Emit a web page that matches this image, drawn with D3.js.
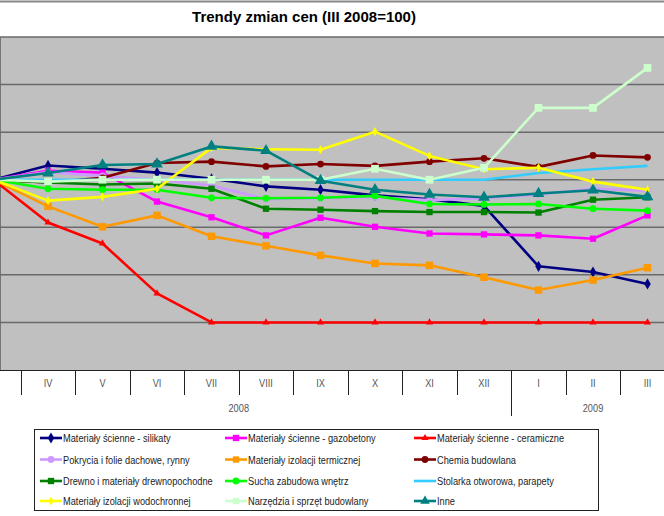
<!DOCTYPE html>
<html><head><meta charset="utf-8">
<script src="https://cdn.jsdelivr.net/npm/d3@7"></script>
<style>body{margin:0;background:#fff}svg{display:block}</style>
</head><body>
<svg id="c" width="664" height="516"></svg>
<script>
const months = ["III","IV","V","VI","VII","VIII","IX","X","XI","XII","I","II","III"];
const years = [{label:"2008", from:0, to:9},{label:"2009", from:10, to:12}];
const yTicks = [70,80,90,100,110,120,130];

const silikaty     = [100,103.0,102.3,101.5,100.2,98.6,97.9,96.7,95.9,94.5,81.8,80.6,78.1];
const gazobetony   = [100,101.9,101.5,95.4,92.1,88.3,92.0,90.1,88.7,88.5,88.3,87.6,92.5];
const ceramiczne   = [100,91.0,86.6,76.1,70,70,70,70,70,70,70,70,70];
const pokrycia     = [100,101.6,100.8,100,98.8,95.9,96.1,96.3,95.7,96.1,96.9,98.1,97.7];
const termicznej   = [100,94.4,90.1,92.5,88.1,86.1,84.1,82.4,82.0,79.5,76.8,78.9,81.5];
const chemia       = [100,99.4,100.4,103.5,103.8,102.8,103.3,102.9,103.8,104.5,102.7,105.1,104.7];
const drewno       = [100,99.4,99.0,99.2,98.1,93.9,93.7,93.4,93.2,93.2,93.1,95.8,96.3];
const sucha        = [100,98.1,97.9,97.9,96.2,96.1,96.2,96.6,94.9,94.8,94.9,93.9,93.5];
const stolarka     = [100,100,100,100,100,100,100,100,100,100,101.4,102.2,102.9];
const wodochronnej = [100,95.6,96.4,98.1,106.7,106.4,106.3,110.1,105.0,102.2,102.5,99.6,97.9];
const narzedzia    = [100,99.6,100,100,100,100,100,102.3,100,102.5,115.1,115.1,123.5];
const inne         = [100,101.4,103.1,103.3,107.0,106.1,99.8,97.9,96.9,96.3,97.1,97.8,96.4];

const seriesNames = ["Materiały ścienne - silikaty","Materiały ścienne - gazobetony","Materiały ścienne - ceramiczne",
 "Pokrycia i folie dachowe, rynny","Materiały izolacji termicznej","Chemia budowlana",
 "Drewno i materiały drewnopochodne","Sucha zabudowa wnętrz","Stolarka otworowa, parapety",
 "Materiały izolacji wodochronnej","Narzędzia i sprzęt budowlany","Inne"];
const seriesValues = [silikaty,gazobetony,ceramiczne,pokrycia,termicznej,chemia,drewno,sucha,stolarka,wodochronnej,narzedzia,inne];
const colors  = ["#000080","#FF00FF","#FF0000","#CC99FF","#FF9900","#800000","#008000","#00FF00","#33CCFF","#FFFF00","#CCFFCC","#008080"];
const markers = ["diamond","square","triangle","circle","square","circle","square","circle","none","diamond","square","triangle"];
const msizes  = [36,40,22,36,56,36,40,36,0,24,60,60];

const FONT = "Liberation Sans, Arial, sans-serif";
const SX = 0.84;

const svg = d3.select("#c");
const x = d3.scalePoint().domain(d3.range(months.length)).range([-6.5, 647.5]);
const step = x.step();
const y = d3.scaleLinear().domain([60,130]).range([370,37]);

// top border & title
svg.append("line").attr("x1",0).attr("x2",664).attr("y1",1.5).attr("y2",1.5).attr("stroke","#888").attr("stroke-width",2);
svg.append("text").attr("x",304).attr("y",22).attr("text-anchor","middle")
  .attr("font-family",FONT).attr("font-weight","bold").attr("font-size",15)
  .text("Trendy zmian cen (III 2008=100)");

// plot area
svg.append("rect").attr("x",0).attr("y",y(130)).attr("width",664).attr("height",y(60)-y(130)).attr("fill","#C0C0C0");
svg.append("line").attr("x1",0.5).attr("x2",0.5).attr("y1",y(130)).attr("y2",y(60)).attr("stroke","#777");
svg.append("g").selectAll("line").data(yTicks).join("line")
  .attr("x1",0).attr("x2",664).attr("y1",d=>y(d)).attr("y2",d=>y(d))
  .attr("stroke","#6a6a6a").attr("stroke-width",1.5);

// x axis
const ax = svg.append("g").attr("font-family",FONT).attr("font-size",11).attr("fill","#555");
ax.append("line").attr("x1",0).attr("x2",664).attr("y1",370.5).attr("y2",370.5).attr("stroke","#222");
const bounds = d3.range(months.length+1).map(i => ({i, px: x(0) - step/2 + i*step}));
ax.selectAll("line.sep").data(bounds).join("line").attr("class","sep")
  .attr("x1",d=>Math.round(d.px)+0.5).attr("x2",d=>Math.round(d.px)+0.5)
  .attr("y1",370).attr("y2",d=> (d.i===0||d.i===10||d.i===13)?416:395)
  .attr("stroke","#222");
ax.selectAll("text.m").data(months.map((m,i)=>({m,i})).filter(d=>x(d.i)>10)).join("text").attr("class","m")
  .attr("transform",d=>`translate(${x(d.i)},387) scale(${SX},1)`).attr("text-anchor","middle").text(d=>d.m);
ax.selectAll("text.yr").data(years).join("text").attr("class","yr")
  .attr("transform",d=>`translate(${(x(d.from)+x(d.to))/2},412) scale(${SX},1)`).attr("text-anchor","middle").text(d=>d.label);

// series
const line = d3.line().x((d,i)=>x(i)).y(d=>y(d));
const symType = {diamond:d3.symbolDiamond, square:d3.symbolSquare, triangle:d3.symbolTriangle, circle:d3.symbolCircle};
const gS = svg.append("g");
seriesValues.forEach((vals,k)=>{
  const g = gS.append("g");
  g.append("path").attr("d",line(vals)).attr("fill","none").attr("stroke",colors[k]).attr("stroke-width",2.6).attr("stroke-linejoin","round");
  if (markers[k]!=="none") {
    g.selectAll("path.mk").data(vals).join("path").attr("class","mk")
      .attr("transform",(d,i)=>`translate(${x(i)},${y(d)})`)
      .attr("d",d3.symbol().type(symType[markers[k]]).size(msizes[k]))
      .attr("fill",colors[k]);
  }
});

// legend
const lg = svg.append("g").attr("font-family",FONT).attr("font-size",11).attr("fill","#222");
lg.append("rect").attr("x",34.5).attr("y",429.5).attr("width",564).attr("height",81).attr("fill","#fff").attr("stroke","#222");
const colX = [40,225,414], rowY = [438,459.5,481,501];
seriesNames.forEach((nm,k)=>{
  const cx = colX[k%3], cy = rowY[Math.floor(k/3)];
  lg.append("line").attr("x1",cx).attr("x2",cx+22).attr("y1",cy).attr("y2",cy).attr("stroke",colors[k]).attr("stroke-width",2.6);
  if (markers[k]!=="none") lg.append("path").attr("transform",`translate(${cx+11},${cy})`)
    .attr("d",d3.symbol().type(symType[markers[k]]).size(Math.min(msizes[k],40))).attr("fill",colors[k]);
  lg.append("text").attr("transform",`translate(${cx+23},${cy+4}) scale(${SX},1)`).text(nm);
});
</script>
</body></html>
